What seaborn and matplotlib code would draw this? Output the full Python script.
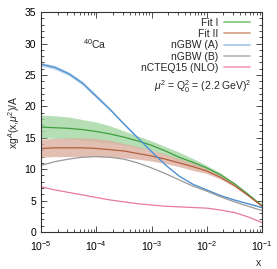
import numpy as np
import pandas as pd
import seaborn as sns
import matplotlib
matplotlib.use("Agg")
import matplotlib.pyplot as plt
from matplotlib.ticker import MultipleLocator, LogLocator, NullFormatter

# =========================================================
# DATA (log10 x grid every quarter decade)
# =========================================================
log_x = [-5, -4.75, -4.5, -4.25, -4, -3.75, -3.5, -3.25, -3,
         -2.75, -2.5, -2.25, -2, -1.75, -1.5, -1.25, -1]

fit1 = [16.7, 16.6, 16.5, 16.3, 16.0, 15.6, 15.1, 14.5, 13.8,
        12.9, 11.9, 11.1, 10.2, 9.1, 7.7, 6.0, 4.2]
fit1_hi = [18.6, 18.5, 18.3, 17.9, 17.5, 16.9, 16.1, 15.3, 14.5,
           13.6, 12.7, 11.7, 10.6, 9.4, 7.8, 6.0, 4.2]
fit1_lo = [15.0, 14.9, 14.8, 14.6, 14.4, 14.1, 13.8, 13.4, 13.0,
           12.2, 11.3, 10.6, 9.9, 8.9, 7.6, 5.9, 4.1]

fit2 = [13.3, 13.4, 13.4, 13.4, 13.3, 13.1, 12.9, 12.5, 12.1,
        11.6, 11.0, 10.4, 9.7, 8.7, 7.4, 5.8, 4.1]
fit2_hi = [14.8, 14.9, 15.0, 15.0, 14.9, 14.6, 14.1, 13.6, 13.0,
           12.4, 11.7, 11.0, 10.1, 9.0, 7.6, 6.0, 4.2]
fit2_lo = [11.9, 12.0, 12.0, 12.0, 12.0, 11.9, 11.8, 11.6, 11.3,
           10.9, 10.4, 9.8, 9.3, 8.4, 7.2, 5.7, 4.0]

ngbw_a = [26.7, 26.2, 25.2, 23.7, 21.6, 19.5, 17.2, 15.0, 12.8,
          10.7, 8.9, 7.6, 6.7, 5.8, 5.1, 4.5, 3.9]
ngbw_a_hi = [27.0, 26.5, 25.5, 24.0, 21.9, 19.7, 17.4, 15.2, 13.0,
             10.8, 9.0, 7.7, 6.8, 5.9, 5.2, 4.6, 4.0]
ngbw_a_lo = [26.4, 25.9, 24.9, 23.4, 21.3, 19.3, 17.0, 14.8, 12.6,
             10.6, 8.8, 7.5, 6.6, 5.7, 5.0, 4.4, 3.8]

ngbw_b = [10.6, 11.2, 11.6, 11.9, 12.0, 11.9, 11.6, 11.0, 10.2,
          9.3, 8.3, 7.3, 6.5, 5.6, 4.8, 4.1, 3.4]

ncteq = [7.2, 6.7, 6.3, 5.9, 5.5, 5.1, 4.8, 4.5, 4.3,
         4.1, 4.0, 3.9, 3.8, 3.5, 3.1, 2.4, 1.5]

labels = ["Fit I", "Fit II", "nGBW (A)", "nGBW (B)", "nCTEQ15 (NLO)"]
line_colors = ["#3f9f3f", "#b0603c", "#4a8fd0", "#9a9a9a", "#e879a0"]
band_colors = ["#a3d6a3", "#dcb0a0", "#a9c9ea"]
legend_colors = ["#86c986", "#d9a48e", "#a9c9ea", "#bbbbbb", "#f2a3c0"]

# =========================================================
# LONG TABLE FOR SEABORN
# =========================================================
x_vals = 10.0 ** np.array(log_x)
df = pd.concat([
    pd.DataFrame({"x": x_vals, "y": vals, "model": lab})
    for lab, vals in zip(labels, [fit1, fit2, ngbw_a, ngbw_b, ncteq])
])

# =========================================================
# PLOT
# =========================================================
sns.set_style("ticks")
plt.rcParams['font.family'] = ['Liberation Sans', 'DejaVu Sans']
plt.rcParams['mathtext.fontset'] = 'custom'
plt.rcParams['mathtext.rm'] = 'Liberation Sans'
plt.rcParams['mathtext.it'] = 'Liberation Sans:italic'

fig = plt.figure(figsize=(2.77, 2.69), dpi=100)
ax = fig.add_axes([0.148, 0.1375, 0.798, 0.8175])

bands = [(fit1_lo, fit1_hi), (fit2_lo, fit2_hi), (ngbw_a_lo, ngbw_a_hi)]
for (lo, hi), col in zip(bands, band_colors):
    ax.fill_between(x_vals, lo, hi, color=col, alpha=0.8, lw=0)

sns.lineplot(ax=ax, data=df, x="x", y="y", hue="model",
             palette=dict(zip(labels, line_colors)), hue_order=labels,
             linewidth=0.9, legend=False)

ax.set_xscale("log")
ax.set_xlim(1e-5, 1e-1)
ax.set_ylim(0, 35)
ax.yaxis.set_major_locator(MultipleLocator(5))
ax.yaxis.set_minor_locator(MultipleLocator(1))
ax.xaxis.set_major_locator(LogLocator(base=10, numticks=10))
ax.xaxis.set_minor_locator(LogLocator(base=10, subs=np.arange(2, 10), numticks=20))
ax.xaxis.set_minor_formatter(NullFormatter())

ax.tick_params(which="both", direction="in", top=True, right=True,
               labelsize=7.5, width=0.6, colors="#333333", labelcolor="black")
ax.tick_params(which="major", length=4)
ax.tick_params(which="minor", length=2)
ax.tick_params(axis="x", pad=5)
for sp in ax.spines.values():
    sp.set_linewidth(0.8)
    sp.set_color("#333333")

ax.set_xlabel("x", fontsize=7.5)
ax.xaxis.set_label_coords(0.985, -0.12)
ax.set_ylabel(r"xg$^A$(x,$\mu^2$)/A", fontsize=7.5, labelpad=2)

# legend: labels on the left, pale line handles on the right
handles = [plt.Line2D([], [], color=c, lw=1.3) for c in legend_colors]
ax.legend(handles, labels, loc="upper right", frameon=False, markerfirst=False,
          fontsize=7.5, handlelength=2.5, labelspacing=0.12,
          borderaxespad=0.25, borderpad=0.3, handletextpad=0.5,
          bbox_to_anchor=(0.97, 1.0))

ax.text(0.19, 0.855, r"$^{40}$Ca", transform=ax.transAxes, fontsize=7.5, va="center")
ax.text(0.955, 0.66, r"$\mu^2$ = Q$_0^2$ = (2.2 GeV)$^2$", transform=ax.transAxes,
        fontsize=7.5, ha="right", va="center")

fig.savefig("out.png", dpi=100)
